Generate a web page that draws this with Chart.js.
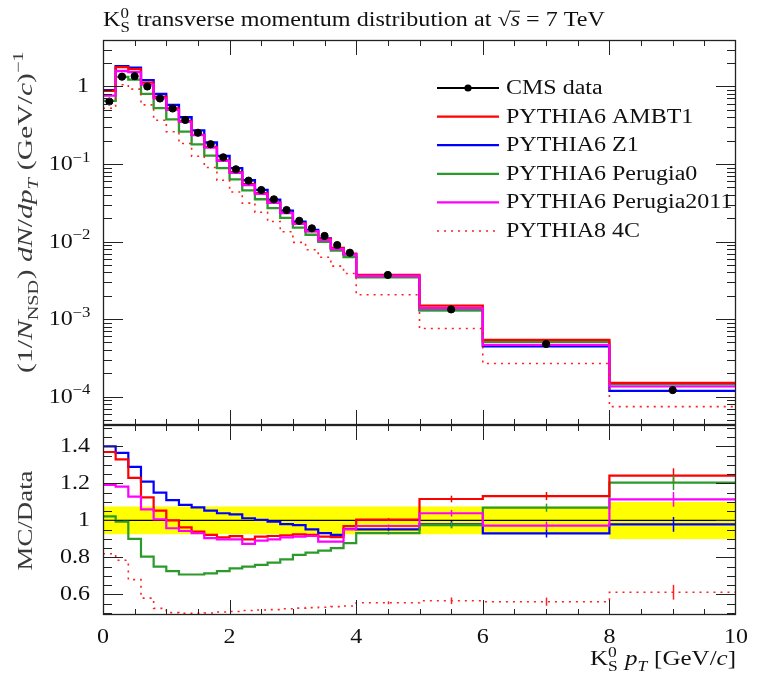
<!DOCTYPE html>
<html>
<head>
<meta charset="utf-8">
<script src="https://cdn.jsdelivr.net/npm/chart.js@4.4.1/dist/chart.umd.min.js"></script>
<style>
  body { margin: 0; background: #fff; }
  #wrap { position: relative; width: 763px; height: 677px; }
  #top { position: absolute; left: 0; top: 0; }
  #bot { position: absolute; left: 0; top: 420px; }
</style>
</head>
<body>
<div id="wrap">
  <canvas id="top" width="763" height="430"></canvas>
  <canvas id="bot" width="763" height="257"></canvas>
</div>
<script>
// bins in pT (GeV/c)
const binEdges = [0, 0.2, 0.4, 0.6, 0.8, 1.0, 1.2, 1.4, 1.6, 1.8, 2.0, 2.2, 2.4, 2.6, 2.8, 3.0, 3.2, 3.4, 3.6, 3.8, 4.0, 5, 6, 8, 10];

// CMS data, (1/N) dN/dpT
const cmsData = [0.64, 1.34, 1.36, 1.0, 0.70, 0.52, 0.37, 0.253, 0.18, 0.122, 0.0855, 0.061, 0.0462, 0.035, 0.0255, 0.0185, 0.0148, 0.0118, 0.0090, 0.00717, 0.0037, 0.00133, 0.000476, 0.000121];
// data uncertainty (relative) -> yellow band
const bandErr = [0.075, 0.075, 0.075, 0.075, 0.075, 0.075, 0.075, 0.075, 0.075, 0.075, 0.075, 0.075, 0.075, 0.075, 0.075, 0.075, 0.075, 0.075, 0.075, 0.075, 0.075, 0.075, 0.075, 0.1];

// MC / data
const ratioAMBT1 = [1.37, 1.33, 1.23, 1.125, 1.053, 1.0, 0.963, 0.94, 0.922, 0.909, 0.915, 0.898, 0.913, 0.916, 0.92, 0.925, 0.922, 0.913, 0.91, 0.97, 1.005, 1.116, 1.132, 1.242];
const ratioZ1 = [1.40, 1.365, 1.29, 1.21, 1.15, 1.11, 1.084, 1.071, 1.053, 1.039, 1.033, 1.012, 1.003, 0.994, 0.98, 0.975, 0.952, 0.932, 0.922, 0.955, 0.952, 0.979, 0.93, 0.979];
const ratioPerugia0 = [1.022, 0.994, 0.9, 0.805, 0.75, 0.726, 0.708, 0.708, 0.714, 0.726, 0.741, 0.75, 0.76, 0.772, 0.79, 0.814, 0.826, 0.837, 0.85, 0.877, 0.932, 0.975, 1.069, 1.204];
const ratioPerugia2011 = [1.192, 1.183, 1.129, 1.06, 1.006, 0.958, 0.943, 0.931, 0.904, 0.898, 0.898, 0.873, 0.891, 0.898, 0.909, 0.913, 0.916, 0.886, 0.886, 0.952, 0.97, 1.039, 0.972, 1.114];
const ratio4C = [0.82, 0.785, 0.68, 0.58, 0.525, 0.502, 0.498, 0.498, 0.5, 0.505, 0.508, 0.513, 0.516, 0.518, 0.523, 0.526, 0.529, 0.531, 0.534, 0.538, 0.555, 0.566, 0.561, 0.612];
// MC stat. error on the ratio
const mcErr = [0.003, 0.003, 0.003, 0.003, 0.003, 0.003, 0.003, 0.003, 0.003, 0.003, 0.003, 0.003, 0.003, 0.003, 0.003, 0.003, 0.003, 0.003, 0.003, 0.003, 0.008, 0.018, 0.022, 0.04];

const seriesNames = ['CMS data', 'PYTHIA6 AMBT1', 'PYTHIA6 Z1', 'PYTHIA6 Perugia0', 'PYTHIA6 Perugia2011', 'PYTHIA8 4C'];
const xTickLabels = [0, 2, 4, 6, 8, 10];
const logTickLabels = [1, 0.1, 0.01, 0.001, 0.0001];
const ratioTickLabels = [1.4, 1.2, 1, 0.8, 0.6];

const mcSeries = [
  { name: seriesNames[1], ratio: ratioAMBT1, color: '#ff0000' },
  { name: seriesNames[2], ratio: ratioZ1, color: '#0000ff' },
  { name: seriesNames[3], ratio: ratioPerugia0, color: '#2a9a2a' },
  { name: seriesNames[4], ratio: ratioPerugia2011, color: '#ff00ff' },
  { name: seriesNames[5], ratio: ratio4C, color: '#ff2020', dash: [2, 5] },
];
const drawOrder = [4, 3, 0, 2, 1]; // first = on top

const FONT = '"Liberation Serif", "Times New Roman", serif';
const SX = 1.2; // widen glyphs a bit (palatino-ish)
const BASE = 20;

// ---------- text helpers ----------
function textW(ctx, s, size, it) {
  ctx.font = (it ? 'italic ' : '') + size + 'px ' + FONT;
  return ctx.measureText(s).width * SX;
}
function put(ctx, s, x, y, size, it) {
  ctx.save();
  ctx.font = (it ? 'italic ' : '') + size + 'px ' + FONT;
  ctx.translate(x, y);
  ctx.scale(SX, 1);
  ctx.fillText(s, 0, 0);
  ctx.restore();
}
function partW(ctx, p, base) {
  const small = Math.round(base * 0.7);
  if (p.sub !== undefined && p.sup !== undefined) return Math.max(textW(ctx, p.sub, small, p.it), textW(ctx, p.sup, small, p.it)) + 1;
  if (p.pos) return textW(ctx, p.t, small, p.it) + 0.5;
  return textW(ctx, p.t, base, p.it);
}
// fitW: stretch the whole string to that width
function drawRich(ctx, parts, x, y, align, base, fitW) {
  let w = 0;
  parts.forEach(p => w += partW(ctx, p, base));
  const k = fitW ? fitW / w : 1;
  const W = w * k;
  const x0 = align === 'right' ? x - W : align === 'center' ? x - W / 2 : x;
  const small = Math.round(base * 0.7);
  ctx.save();
  ctx.translate(x0, y);
  ctx.scale(k, 1);
  ctx.textAlign = 'left';
  ctx.textBaseline = 'alphabetic';
  let cx = 0;
  for (const p of parts) {
    const pw = partW(ctx, p, base);
    if (p.sub !== undefined && p.sup !== undefined) {
      put(ctx, p.sub, cx, base * 0.3, small, p.it);
      put(ctx, p.sup, cx, -base * 0.4, small, p.it);
    } else if (p.pos === 'sub') {
      put(ctx, p.t, cx, base * 0.28, small, p.it);
    } else if (p.pos === 'sup') {
      put(ctx, p.t, cx, -base * 0.42, small, p.it);
    } else {
      put(ctx, p.t, cx, 0, base, p.it);
      if (p.over) {
        ctx.beginPath();
        ctx.lineWidth = 1;
        ctx.moveTo(cx - 1, -base * 0.74);
        ctx.lineTo(cx + pw, -base * 0.74);
        ctx.stroke();
      }
    }
    cx += pw;
  }
  ctx.restore();
  return W;
}
function seg(x1, y1, x2, y2, ctx) {
  ctx.beginPath(); ctx.moveTo(x1, y1); ctx.lineTo(x2, y2); ctx.stroke();
}

// ---------- frame + ticks ----------
function drawFrame(chart, yTicks) {
  const { ctx, chartArea: a, scales } = chart;
  const xs = scales.x, ys = scales.y;
  ctx.save();
  ctx.strokeStyle = '#222';
  ctx.lineWidth = 1;
  for (let i = 1; i < 20; i++) {
    const px = Math.round(xs.getPixelForValue(i * 0.5)) + 0.5;
    const L = (i % 4 === 0) ? 15 : 6;
    seg(px, a.top, px, a.top + L, ctx);
    seg(px, a.bottom, px, a.bottom - L, ctx);
  }
  yTicks.forEach(t => {
    const py = Math.round(ys.getPixelForValue(t.v)) + 0.5;
    if (py < a.top + 1 || py > a.bottom - 1) return;
    const L = t.major ? 20 : 9;
    seg(a.left, py, a.left + L, py, ctx);
    seg(a.right, py, a.right - L, py, ctx);
  });
  ctx.lineWidth = 1.3;
  ctx.strokeRect(a.left + 0.5, a.top + 0.5, a.right - a.left - 1, a.bottom - a.top - 1);
  ctx.restore();
}

function steps(vals) {
  return binEdges.map((x, i) => ({ x: x, y: vals[Math.min(i, vals.length - 1)] }));
}
const centers = cmsData.map((d, i) => (binEdges[i] + binEdges[i + 1]) / 2);

// ---------- top panel ----------
const topDatasets = [{
  label: seriesNames[0],
  data: cmsData.map((d, i) => ({ x: centers[i], y: d })),
  showLine: false,
  pointRadius: 3.6,
  pointBackgroundColor: '#000',
  pointBorderColor: '#000',
}];
drawOrder.forEach(k => {
  const m = mcSeries[k];
  topDatasets.push({
    label: m.name,
    data: steps(cmsData.map((d, i) => d * m.ratio[i])),
    stepped: true,
    borderColor: m.color,
    borderWidth: m.dash ? 1.6 : 2.3,
    borderDash: m.dash || [],
    pointRadius: 0,
    fill: false,
  });
});

const logTicks = [];
for (let e = -5; e <= 0; e++) {
  for (let m = 1; m <= 9; m++) logTicks.push({ v: m * Math.pow(10, e), major: m === 1 });
}

const topPlugin = {
  id: 'topDecor',
  afterDraw(chart) {
    const { ctx, chartArea: a, scales } = chart;
    drawFrame(chart, logTicks);
    ctx.save();
    ctx.fillStyle = '#111';
    ctx.strokeStyle = '#111';
    // title
    drawRich(ctx, [
      { t: 'K' }, { sub: 'S', sup: '0' },
      { t: ' transverse momentum distribution at ' },
      { t: '\u221A' }, { t: 's', it: true, over: true }, { t: ' = 7 TeV' }
    ], a.left, 26, 'left', BASE, 502);
    // y tick labels
    logTickLabels.forEach(v => {
      const py = scales.y.getPixelForValue(v);
      const e = Math.round(Math.log10(v));
      if (e === 0) drawRich(ctx, [{ t: '1' }], 89, py + 6, 'right', BASE);
      else drawRich(ctx, [{ t: '10' }, { t: '\u2212' + (-e), pos: 'sup' }], 91, py + 6, 'right', BASE);
    });
    // y title
    ctx.save();
    ctx.fillStyle = '#3a3a3a';
    ctx.translate(32, 212);
    ctx.rotate(-Math.PI / 2);
    drawRich(ctx, [
      { t: '(1/' }, { t: 'N', it: true }, { t: 'NSD', pos: 'sub' }, { t: ') ' },
      { t: 'dN', it: true }, { t: '/' }, { t: 'dp', it: true }, { t: 'T', it: true, pos: 'sub' },
      { t: ' (GeV/' }, { t: 'c', it: true }, { t: ')' }, { t: '\u22121', pos: 'sup' }
    ], 0, 0, 'center', 22, 322);
    ctx.restore();
    // legend
    const rowY0 = 88, rowDy = 28.6;
    const x1 = 437, x2 = 499, tx = 506;
    seriesNames.forEach((name, i) => {
      const yy = rowY0 + i * rowDy;
      ctx.save();
      if (i === 0) {
        ctx.strokeStyle = '#000'; ctx.lineWidth = 2;
        seg(x1, yy, x2, yy, ctx);
        ctx.fillStyle = '#000';
        ctx.beginPath(); ctx.arc((x1 + x2) / 2, yy, 3.6, 0, Math.PI * 2); ctx.fill();
      } else {
        const m = mcSeries[i - 1];
        ctx.strokeStyle = m.color;
        ctx.lineWidth = m.dash ? 1.6 : 2.3;
        ctx.setLineDash(m.dash || []);
        seg(x1, yy, x2, yy, ctx);
      }
      ctx.restore();
      ctx.fillStyle = '#111';
      drawRich(ctx, [{ t: name }], tx, yy + 6, 'left', BASE);
    });
    ctx.restore();
  }
};

new Chart(document.getElementById('top'), {
  type: 'line',
  data: { datasets: topDatasets },
  options: {
    responsive: false,
    animation: false,
    events: [],
    layout: { padding: { left: 103, right: 27, top: 40, bottom: 5 } },
    plugins: { legend: { display: false }, tooltip: { enabled: false } },
    scales: {
      x: { type: 'linear', min: 0, max: 10, bounds: 'data', display: false },
      y: { type: 'logarithmic', min: 4.29e-5, max: 3.98, bounds: 'data', display: false },
    },
  },
  plugins: [topPlugin],
});

// ---------- ratio panel ----------
const ones = cmsData.map(() => 1);
const botDatasets = [];
drawOrder.forEach(k => {
  const m = mcSeries[k];
  botDatasets.push({
    label: m.name,
    data: steps(m.ratio),
    stepped: true,
    borderColor: m.color,
    borderWidth: m.dash ? 1.6 : 2.2,
    borderDash: m.dash || [],
    pointRadius: 0,
    fill: false,
  });
});
botDatasets.push({
  label: 'data',
  data: steps(ones),
  stepped: true,
  borderColor: '#000',
  borderWidth: 1.3,
  pointRadius: 0,
  fill: false,
});
botDatasets.push({
  label: 'band up',
  data: steps(bandErr.map(e => 1 + e)),
  stepped: true,
  borderWidth: 0,
  pointRadius: 0,
  fill: false,
});
botDatasets.push({
  label: 'band down',
  data: steps(bandErr.map(e => 1 - e)),
  stepped: true,
  borderWidth: 0,
  pointRadius: 0,
  backgroundColor: '#ffff00',
  fill: '-1',
});

const ratioTicks = [];
for (let i = 10; i <= 30; i++) ratioTicks.push({ v: i * 0.05, major: i % 4 === 0 });

const botPlugin = {
  id: 'botDecor',
  afterDatasetsDraw(chart) {
    // MC error bars
    const { ctx, scales } = chart;
    ctx.save();
    mcSeries.forEach(m => {
      ctx.strokeStyle = m.color;
      ctx.lineWidth = 1.5;
      m.ratio.forEach((r, i) => {
        if (mcErr[i] < 0.005) return;
        const px = Math.round(scales.x.getPixelForValue(centers[i])) + 0.5;
        seg(px, scales.y.getPixelForValue(r - mcErr[i]), px, scales.y.getPixelForValue(r + mcErr[i]), ctx);
      });
    });
    ctx.restore();
  },
  afterDraw(chart) {
    const { ctx, chartArea: a, scales } = chart;
    drawFrame(chart, ratioTicks);
    ctx.save();
    ctx.fillStyle = '#111';
    ctx.strokeStyle = '#111';
    ratioTickLabels.forEach(v => {
      const py = scales.y.getPixelForValue(v);
      drawRich(ctx, [{ t: String(v) }], 90, py + 6, 'right', BASE);
    });
    xTickLabels.forEach(v => {
      const px = scales.x.getPixelForValue(v);
      drawRich(ctx, [{ t: String(v) }], px, a.bottom + 28, 'center', BASE);
    });
    ctx.save();
    ctx.fillStyle = '#3a3a3a';
    ctx.translate(32, scales.y.getPixelForValue(1));
    ctx.rotate(-Math.PI / 2);
    drawRich(ctx, [{ t: 'MC/Data' }], 0, 0, 'center', 22, 100);
    ctx.restore();
    drawRich(ctx, [
      { t: 'K' }, { sub: 'S', sup: '0' }, { t: ' ' },
      { t: 'p', it: true }, { t: 'T', it: true, pos: 'sub' },
      { t: ' [GeV/' }, { t: 'c', it: true }, { t: ']' }
    ], a.right, a.bottom + 50, 'right', BASE, 146);
    ctx.restore();
  }
};

new Chart(document.getElementById('bot'), {
  type: 'line',
  data: { datasets: botDatasets },
  options: {
    responsive: false,
    animation: false,
    events: [],
    layout: { padding: { left: 103, right: 27, top: 5, bottom: 62 } },
    plugins: { legend: { display: false }, tooltip: { enabled: false }, filler: { propagate: false } },
    scales: {
      x: { type: 'linear', min: 0, max: 10, bounds: 'data', display: false },
      y: { type: 'linear', min: 0.489, max: 1.516, bounds: 'data', display: false },
    },
  },
  plugins: [botPlugin],
});
</script>
</body>
</html>
